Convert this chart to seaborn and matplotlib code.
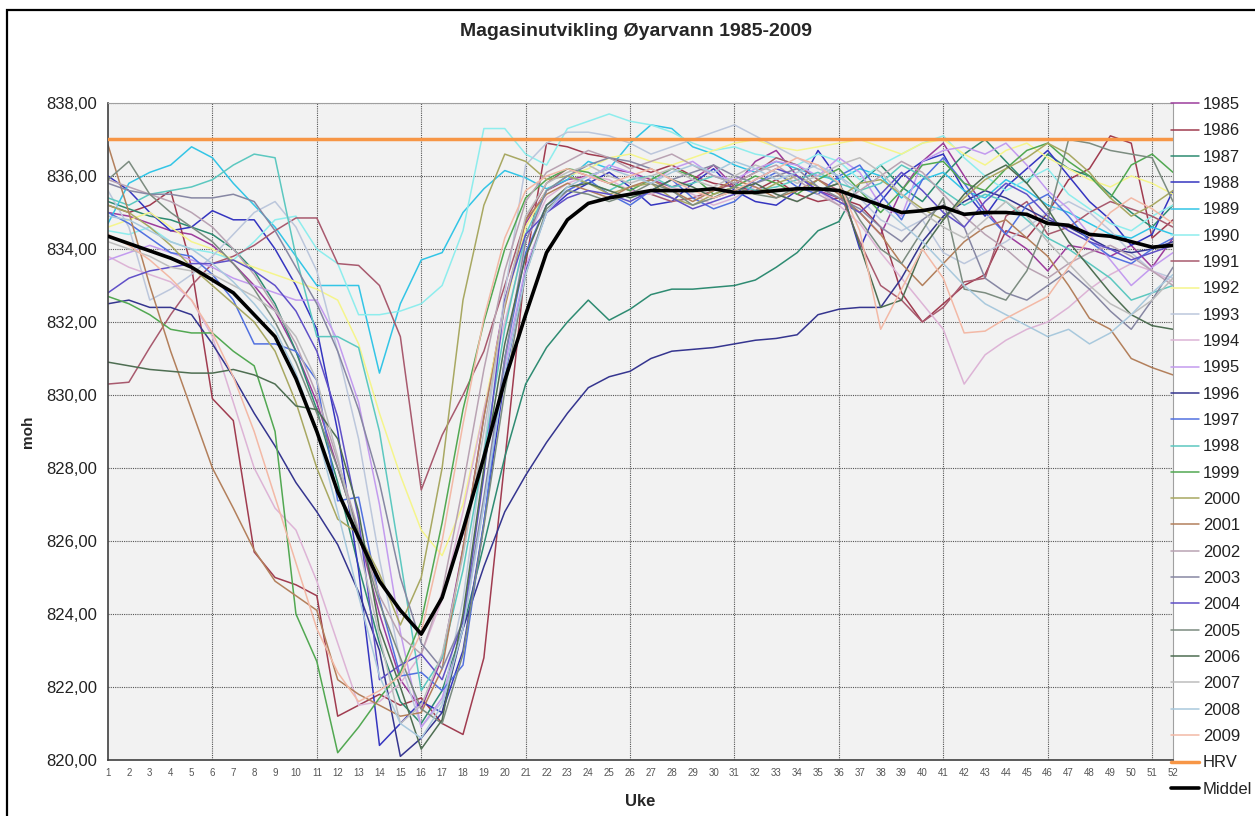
import numpy as np
import pandas as pd
import matplotlib
matplotlib.use("Agg")
import matplotlib.pyplot as plt
import seaborn as sns
from matplotlib.patches import Rectangle
from matplotlib.ticker import FuncFormatter, FixedLocator, MultipleLocator

# Uke 1-52, vannstand (moh) per aar lest av figuren
weeks = list(range(1, 53))
years = [str(y) for y in range(1985, 2010)]
year_colors = ['#9C3D9C', '#A03C50', '#2E8B72', '#3535C0', '#33C5E6',
               '#8EEDED', '#A85A6E', '#F5F58C', '#BCC7DC', '#DDB4D6',
               '#C39BEF', '#35358F', '#5271E0', '#5CC8C0', '#52A852',
               '#A8A862', '#B3805C', '#B9A3B3', '#8787A3', '#6050C8',
               '#7C8C80', '#4E6E52', '#BDBDBD', '#A9C9DD', '#F3B9A6']

y1985 = [835.0, 834.9, 834.7, 834.5, 834.4, 834.1, 833.6, 833.0, 832.3, 831.2,
         829.8, 828.0, 826.2, 824.0, 822.2, 821.4, 822.8, 825.8, 829.4, 832.6,
         834.7, 835.6, 835.9, 836.0, 836.2, 836.1, 835.9, 835.7, 835.9, 836.3,
         835.7, 836.4, 836.7, 836.0, 835.6, 835.4, 835.0, 834.4, 835.6, 836.4,
         836.9, 836.0, 835.1, 834.4, 834.0, 833.4, 834.1, 834.0, 833.8, 834.1, 833.5, 834.3]
y1986 = [835.2, 835.0, 835.2, 835.6, 833.5, 829.9, 829.3, 825.7, 825.0, 824.8,
         824.5, 821.2, 821.5, 821.8, 821.5, 821.7, 821.0, 820.7, 822.8, 828.2,
         833.6, 836.9, 836.8, 836.6, 836.5, 836.3, 836.1, 836.3, 836.0, 835.8,
         835.7, 835.6, 835.9, 835.5, 835.3, 835.4, 835.2, 834.6, 832.8, 832.0,
         832.5, 833.0, 833.3, 834.5, 834.3, 835.0, 835.9, 836.2, 837.1, 836.9, 834.3, 834.8]
y1987 = [835.3, 835.1, 834.9, 834.8, 834.6, 834.4, 834.0, 833.4, 832.5, 831.2,
         829.6, 827.6, 825.3, 823.2, 821.6, 821.0, 821.9, 823.6, 825.9, 828.3,
         830.3, 831.3, 832.0, 832.6, 832.05, 832.35, 832.75, 832.9, 832.9, 832.95,
         833.0, 833.15, 833.5, 833.9, 834.5, 834.75, 835.8, 836.3, 835.7, 835.3,
         836.0, 836.6, 837.0, 836.4, 835.8, 836.6, 836.2, 836.0, 835.5, 835.0, 834.6, 835.2]
y1988 = [836.0, 835.6, 835.0, 834.5, 834.6, 835.05, 834.8, 834.8, 834.0, 833.0,
         831.8, 829.0, 825.2, 820.4, 821.0, 821.6, 821.3, 823.0, 826.5, 830.5,
         833.4, 835.0, 835.5, 835.8, 836.1, 835.7, 835.2, 835.3, 835.8, 836.2,
         835.6, 835.3, 835.2, 835.6, 836.7, 835.9, 834.0, 835.3, 836.0, 836.4,
         836.6, 835.6, 834.9, 835.7, 836.2, 836.7, 836.0, 835.3, 834.8, 834.1, 834.4, 835.6]
y1989 = [834.7, 835.8, 836.1, 836.3, 836.8, 836.5, 835.8, 835.2, 834.6, 833.8,
         833.0, 833.0, 833.0, 830.6, 832.5, 833.7, 833.9, 835.0, 835.65, 836.15,
         835.95, 835.65, 835.9, 836.4, 836.2, 836.9, 837.4, 837.3, 836.8, 836.6,
         836.3, 836.1, 836.4, 836.2, 836.0, 835.9, 836.2, 836.0, 835.4, 835.9,
         836.1, 835.6, 835.4, 835.9, 835.6, 835.2, 835.0, 834.7, 834.4, 834.3, 834.6, 834.4]
y1990 = [834.5, 834.4, 834.6, 834.2, 834.0, 833.9, 833.7, 834.2, 834.8, 834.9,
         834.0, 833.6, 832.2, 832.2, 832.3, 832.5, 833.0, 834.5, 837.3, 837.3,
         836.6, 836.3, 837.3, 837.5, 837.7, 837.5, 837.4, 837.2, 836.9, 836.7,
         836.8, 836.6, 836.5, 836.3, 836.6, 836.4, 835.9, 836.3, 836.6, 836.9,
         837.1, 836.5, 836.0, 835.6, 835.9, 836.2, 835.5, 835.1, 834.7, 834.5, 834.9, 835.2]
y1991 = [830.3, 830.35, 831.3, 832.2, 833.0, 833.6, 833.8, 834.1, 834.5, 834.85,
         834.85, 833.6, 833.55, 833.0, 831.6, 827.4, 828.9, 830.0, 831.2, 833.0,
         834.8, 835.8, 836.2, 836.0, 835.8, 835.6, 835.5, 835.3, 835.4, 835.6,
         835.8, 836.1, 836.5, 836.3, 835.9, 835.6, 834.2, 833.0, 832.6, 832.0,
         832.4, 833.1, 833.2, 834.9, 835.3, 834.4, 834.6, 835.0, 835.3, 835.1, 834.9, 834.6]
y1992 = [834.6, 834.8, 835.0, 834.6, 834.2, 834.0, 833.7, 833.5, 833.3, 833.1,
         832.9, 832.6, 831.4, 829.5, 827.8, 826.3, 825.6, 827.0, 829.6, 832.4,
         834.6, 835.6, 836.0, 836.2, 836.5, 836.6, 836.4, 836.3, 836.5, 836.7,
         836.9, 837.0, 836.8, 836.7, 836.8, 836.9, 837.0, 836.8, 836.6, 836.9,
         837.0, 836.6, 836.3, 836.7, 836.9, 836.5, 836.2, 835.9, 835.7, 836.0, 835.8, 835.5]
y1993 = [835.6, 834.6, 832.6, 832.9, 833.3, 833.8, 834.4, 835.0, 835.3, 834.6,
         833.4, 831.2, 828.8, 825.5, 822.7, 820.9, 821.6, 824.4, 828.5, 832.8,
         836.3, 836.9, 837.2, 837.2, 837.1, 836.9, 836.6, 836.8, 837.0, 837.2,
         837.4, 837.1, 836.8, 836.5, 836.2, 836.0, 835.4, 834.8, 834.5, 834.8,
         833.9, 833.6, 833.9, 834.2, 834.6, 835.0, 835.3, 835.0, 834.5, 833.9, 833.4, 833.2]
y1994 = [833.8, 833.5, 833.3, 833.1, 832.6, 831.6, 829.8, 828.0, 826.9, 826.3,
         824.9, 823.2, 821.5, 821.6, 822.1, 822.9, 824.4, 826.8, 829.6, 832.0,
         834.2, 835.4, 835.8, 836.0, 835.9, 835.6, 835.5, 835.7, 835.5, 835.2,
         835.4, 835.7, 835.5, 835.3, 835.6, 835.2, 834.7, 833.9, 833.2, 832.5,
         831.8, 830.3, 831.1, 831.5, 831.8, 832.0, 832.4, 832.9, 833.3, 833.6, 833.4, 833.1]
y1995 = [833.7, 833.9, 834.1, 833.9, 833.7, 833.5, 833.2, 833.0, 832.8, 832.6,
         832.6, 831.5, 829.8, 827.0, 823.5, 820.9, 821.7, 823.6, 827.0, 830.8,
         833.5, 835.0, 835.6, 835.9, 836.3, 836.1, 835.8, 836.2, 836.4, 836.0,
         835.9, 836.2, 836.4, 836.3, 836.0, 836.5, 836.1, 835.2, 834.9, 836.4,
         836.7, 836.8, 836.6, 836.9, 836.3, 835.6, 835.1, 834.4, 833.7, 833.0, 833.5, 833.9]
y1996 = [832.5, 832.6, 832.4, 832.4, 832.2, 831.4, 830.5, 829.5, 828.6, 827.6,
         826.8, 825.9, 824.6, 823.0, 820.1, 820.6, 821.3, 823.6, 825.3, 826.8,
         827.8, 828.7, 829.5, 830.2, 830.5, 830.65, 831.0, 831.2, 831.25, 831.3,
         831.4, 831.5, 831.55, 831.65, 832.2, 832.35, 832.4, 832.4, 833.2, 834.2,
         834.9, 835.3, 835.6, 835.4, 835.1, 834.8, 834.6, 834.3, 834.0, 833.9, 834.0, 834.2]
y1997 = [835.0, 834.7, 834.3, 833.9, 833.8, 833.3, 832.6, 831.4, 831.4, 831.2,
         830.4, 827.1, 827.2, 824.4, 822.3, 822.4, 821.9, 822.6, 826.5, 831.0,
         833.9, 835.2, 835.6, 835.9, 835.5, 835.2, 835.6, 835.9, 835.4, 835.1,
         835.3, 835.8, 836.1, 835.7, 835.5, 836.0, 836.3, 835.5, 834.8, 835.9,
         836.5, 835.8, 835.0, 834.4, 835.2, 835.5, 834.9, 834.2, 833.8, 833.6, 834.0, 834.3]
y1998 = [835.4, 835.2, 835.5, 835.6, 835.7, 835.9, 836.3, 836.6, 836.5, 833.8,
         831.6, 831.6, 831.3, 829.0, 825.5, 821.9, 822.8, 825.2, 828.4, 831.8,
         834.4, 835.6, 836.0, 835.8, 835.6, 835.9, 836.0, 835.7, 835.8, 836.0,
         835.8, 835.6, 835.7, 835.9, 836.1, 835.8, 835.6, 835.8, 836.3, 836.0,
         835.6, 835.2, 835.5, 835.3, 834.8, 834.3, 834.0, 833.6, 833.2, 832.6, 832.8, 833.0]
y1999 = [832.7, 832.5, 832.2, 831.8, 831.7, 831.7, 831.2, 830.8, 829.0, 824.0,
         822.7, 820.2, 820.9, 821.7, 822.4, 823.8, 826.5, 829.6, 832.0, 834.0,
         835.4, 835.9, 836.2, 836.1, 835.8, 835.6, 835.9, 836.2, 836.0, 835.5,
         835.7, 836.0, 835.8, 835.5, 835.9, 836.2, 835.6, 835.0, 835.6, 836.3,
         836.4, 835.8, 835.6, 836.2, 836.7, 836.9, 836.4, 836.0, 835.4, 836.3, 836.6, 836.1]
y2000 = [835.2, 835.0, 834.6, 834.1, 833.5, 833.0, 832.5, 832.0, 831.2, 829.8,
         828.0, 826.6, 826.2, 825.1, 823.7, 825.0, 828.0, 832.6, 835.2, 836.6,
         836.4, 835.9, 836.0, 835.8, 835.5, 835.7, 835.8, 835.4, 835.2, 835.5,
         835.7, 835.5, 835.8, 836.0, 835.7, 835.4, 835.8, 835.9, 835.5, 835.1,
         834.8, 835.4, 835.9, 836.2, 836.5, 836.9, 836.6, 836.1, 835.4, 834.9, 835.2, 835.6]
y2001 = [836.85, 835.0, 833.0, 831.2, 829.6, 828.0, 826.9, 825.75, 824.9, 824.5,
         824.1, 822.2, 821.8, 821.5, 821.2, 821.3, 822.5, 825.8, 829.4, 832.4,
         834.8, 835.5, 835.8, 835.6, 835.4, 835.7, 835.9, 835.6, 835.3, 835.6,
         835.9, 835.7, 835.4, 835.6, 835.9, 835.5, 835.0, 834.4, 833.6, 833.0,
         833.6, 834.2, 834.6, 834.8, 834.3, 833.8, 833.0, 832.1, 831.8, 831.0, 830.75, 830.55]
y2002 = [835.9, 835.7, 835.5, 835.3, 835.0, 834.6, 834.0, 833.3, 832.4, 831.4,
         830.0, 828.2, 826.3, 824.5, 823.4, 822.9, 824.6, 827.5, 830.7, 833.4,
         835.3, 836.1, 836.4, 836.7, 836.5, 836.2, 836.4, 836.6, 836.3, 836.0,
         835.8, 836.1, 836.3, 835.9, 835.5, 835.2, 835.6, 836.0, 836.4, 836.1,
         835.5, 834.9, 834.4, 834.0, 833.5, 833.2, 833.6, 833.9, 834.1, 833.8, 833.4, 833.0]
y2003 = [835.8, 835.6, 835.5, 835.5, 835.4, 835.4, 835.5, 835.3, 834.5, 833.5,
         832.5, 831.2, 829.6, 827.6, 825.0, 823.2, 822.5, 823.8, 827.2, 831.0,
         834.2, 835.6, 836.0, 836.3, 836.5, 836.4, 836.2, 835.9, 836.1, 836.3,
         836.0, 835.8, 836.0, 836.2, 835.7, 835.4, 835.1, 834.6, 834.2, 834.8,
         835.2, 834.6, 833.2, 832.8, 832.6, 833.0, 833.4, 832.9, 832.3, 831.8, 832.6, 833.5]
y2004 = [832.8, 833.2, 833.4, 833.5, 833.6, 833.6, 833.7, 833.4, 833.0, 832.3,
         831.2, 829.4, 826.6, 822.2, 822.6, 822.9, 822.2, 823.8, 827.8, 832.6,
         834.4, 835.0, 835.4, 835.6, 835.5, 835.3, 835.6, 835.4, 835.1, 835.3,
         835.5, 835.9, 836.2, 836.0, 835.6, 835.3, 835.0, 835.5, 836.1, 835.6,
         835.0, 834.6, 835.3, 835.8, 835.5, 834.9, 834.5, 834.2, 834.0, 833.7, 833.9, 834.1]
y2005 = [835.9, 836.4, 835.5, 835.0, 834.6, 834.2, 833.6, 832.9, 832.0, 830.9,
         829.5, 828.0, 826.2, 824.3, 822.8, 821.4, 821.0, 822.9, 826.4, 830.1,
         833.3, 835.1, 835.6, 835.5, 835.3, 835.5, 835.8, 835.6, 835.2, 835.4,
         835.7, 835.5, 835.4, 835.7, 835.6, 835.8, 834.8, 834.0, 833.6, 834.5,
         835.4, 832.9, 832.8, 832.6, 833.4, 834.8, 837.0, 836.9, 836.7, 836.6, 836.5, 835.3]
y2006 = [830.9, 830.8, 830.7, 830.65, 830.6, 830.6, 830.7, 830.55, 830.3, 829.7,
         829.6, 828.8, 826.8, 823.6, 822.0, 820.3, 821.1, 824.0, 828.0, 831.4,
         833.8, 835.2, 835.7, 835.8, 835.6, 835.4, 835.6, 835.9, 835.7, 835.4,
         835.6, 835.8, 835.5, 835.3, 835.6, 835.8, 834.1, 832.4, 832.6, 834.0,
         834.8, 835.5, 836.0, 836.3, 835.8, 835.1, 834.2, 833.5, 832.8, 832.2, 831.9, 831.8]
y2007 = [834.2, 834.0, 833.8, 833.5, 833.4, 833.3, 833.0, 832.7, 832.3, 831.6,
         830.4, 828.3, 825.9, 823.4, 821.0, 821.5, 822.9, 825.6, 829.0, 832.5,
         834.9, 835.8, 836.1, 836.3, 836.0, 835.8, 836.0, 836.2, 835.9, 835.7,
         836.0, 836.3, 836.1, 835.8, 836.0, 836.3, 836.5, 836.1, 835.5, 835.0,
         834.6, 834.3, 834.8, 835.3, 834.9, 834.2, 833.6, 833.0, 832.5, 832.2, 832.6, 833.2]
y2008 = [834.9, 834.8, 834.5, 834.2, 834.0, 833.6, 833.1, 832.5, 831.8, 830.6,
         829.0, 826.8, 824.5, 822.3, 821.0, 820.6, 821.5, 823.6, 827.0, 830.6,
         833.3, 835.0, 835.7, 836.0, 836.2, 836.0, 835.8, 836.1, 836.3, 836.1,
         836.4, 836.2, 835.9, 836.1, 836.3, 836.0, 835.6, 835.2, 834.7, 834.2,
         833.6, 833.0, 832.5, 832.2, 831.9, 831.6, 831.8, 831.4, 831.7, 832.2, 832.8, 833.3]
y2009 = [834.4, 834.1, 833.7, 833.2, 832.6, 831.7, 830.5, 829.0, 827.2, 825.4,
         823.6, 822.4, 821.6, 821.9, 822.3, 823.5, 826.0, 829.2, 832.1, 834.3,
         835.6, 836.0, 836.2, 836.0, 835.8, 836.0, 836.2, 835.9, 835.6, 835.4,
         835.6, 835.9, 836.2, 836.5, 836.3, 835.8, 834.5, 831.8, 832.9, 834.0,
         833.2, 831.7, 831.75, 832.1, 832.4, 832.7, 833.5, 834.3, 835.0, 835.4, 835.1, 834.7]

middel = [834.35, 834.15, 833.95, 833.75, 833.5, 833.15, 832.8, 832.2, 831.6, 830.45,
          829.0, 827.35, 826.1, 824.9, 824.1, 823.45, 824.45, 826.3, 828.3, 830.4,
          832.2, 833.9, 834.8, 835.25, 835.4, 835.5, 835.6, 835.6, 835.6, 835.65,
          835.55, 835.55, 835.6, 835.65, 835.65, 835.6, 835.4, 835.2, 835.0, 835.05,
          835.15, 834.95, 835.0, 835.0, 834.95, 834.7, 834.65, 834.4, 834.35, 834.2, 834.05, 834.1]
hrv_level = 837.0

series = [y1985, y1986, y1987, y1988, y1989, y1990, y1991, y1992, y1993, y1994,
          y1995, y1996, y1997, y1998, y1999, y2000, y2001, y2002, y2003, y2004,
          y2005, y2006, y2007, y2008, y2009]

df = pd.DataFrame({
    'Uke': weeks * len(years),
    'moh': np.concatenate(series),
    'Aar': np.repeat(years, len(weeks)),
})

sns.set_style('white')
plt.rcParams['font.family'] = ['Liberation Sans', 'DejaVu Sans']

fig = plt.figure(figsize=(12.55, 8.16), dpi=100)
ax = fig.add_axes([108 / 1255, 1 - 760 / 816, 1065 / 1255, 657 / 816])
ax.set_facecolor('#F2F2F2')

sns.lineplot(data=df, x='Uke', y='moh', hue='Aar', palette=dict(zip(years, year_colors)),
             errorbar=None, linewidth=1.1, ax=ax)
ax.axhline(hrv_level, color='#F79646', linewidth=2.5, label='HRV', zorder=3)
sns.lineplot(x=weeks, y=middel, color='black', linewidth=2.6, label='Middel', ax=ax, zorder=5)

handles, labels = ax.get_legend_handles_labels()
if ax.get_legend() is not None:
    ax.get_legend().remove()

ax.set_xlim(1, 52)
ax.set_ylim(820, 838)

# x: label every week, dotted grid every 5 weeks
ax.xaxis.set_major_locator(FixedLocator(weeks))
ax.xaxis.set_minor_locator(FixedLocator(list(range(6, 53, 5))))
ax.xaxis.remove_overlapping_locs = False
ax.tick_params(axis='x', which='major', length=0, labelsize=7, labelcolor='#555555', pad=6)
ax.tick_params(axis='x', which='minor', length=4, color='#444444')
ax.grid(axis='x', which='minor', linestyle=(0, (1, 1)), color='#555555', linewidth=0.8)

ax.yaxis.set_major_locator(MultipleLocator(2))
ax.yaxis.set_major_formatter(FuncFormatter(lambda v, p: f"{v:.2f}".replace('.', ',')))
ax.tick_params(axis='y', length=5, color='#444444', labelsize=12, labelcolor='#222222', pad=3)
ax.grid(axis='y', which='major', linestyle=(0, (1, 1)), color='#555555', linewidth=0.8)

for side in ['top', 'right']:
    ax.spines[side].set_color('#A0A0A0')
for side in ['left', 'bottom']:
    ax.spines[side].set_color('#404040')
    ax.spines[side].set_linewidth(1.2)

ax.set_xlabel('Uke', fontsize=12, fontweight='bold', labelpad=11)
ax.set_ylabel('moh', fontsize=11, fontweight='bold', labelpad=8)

fig.text(636 / 1255, 1 - 32 / 816, 'Magasinutvikling Øyarvann 1985-2009',
         ha='center', va='center', fontsize=14, fontweight='bold')

fig.legend(handles, labels, loc='upper left', bbox_to_anchor=(1171 / 1255, 1 - 97 / 816),
           frameon=False, fontsize=12, handlelength=1.7, handletextpad=0.2,
           labelspacing=0.68, borderpad=0, borderaxespad=0, labelcolor='#222222')

# chart area border
fig.patches.append(Rectangle((7 / 1255, -0.05), 1.1, 1 - 10 / 816 + 0.05,
                             transform=fig.transFigure, fill=False,
                             edgecolor='black', linewidth=1.6))

fig.savefig('out.png', dpi=100)
